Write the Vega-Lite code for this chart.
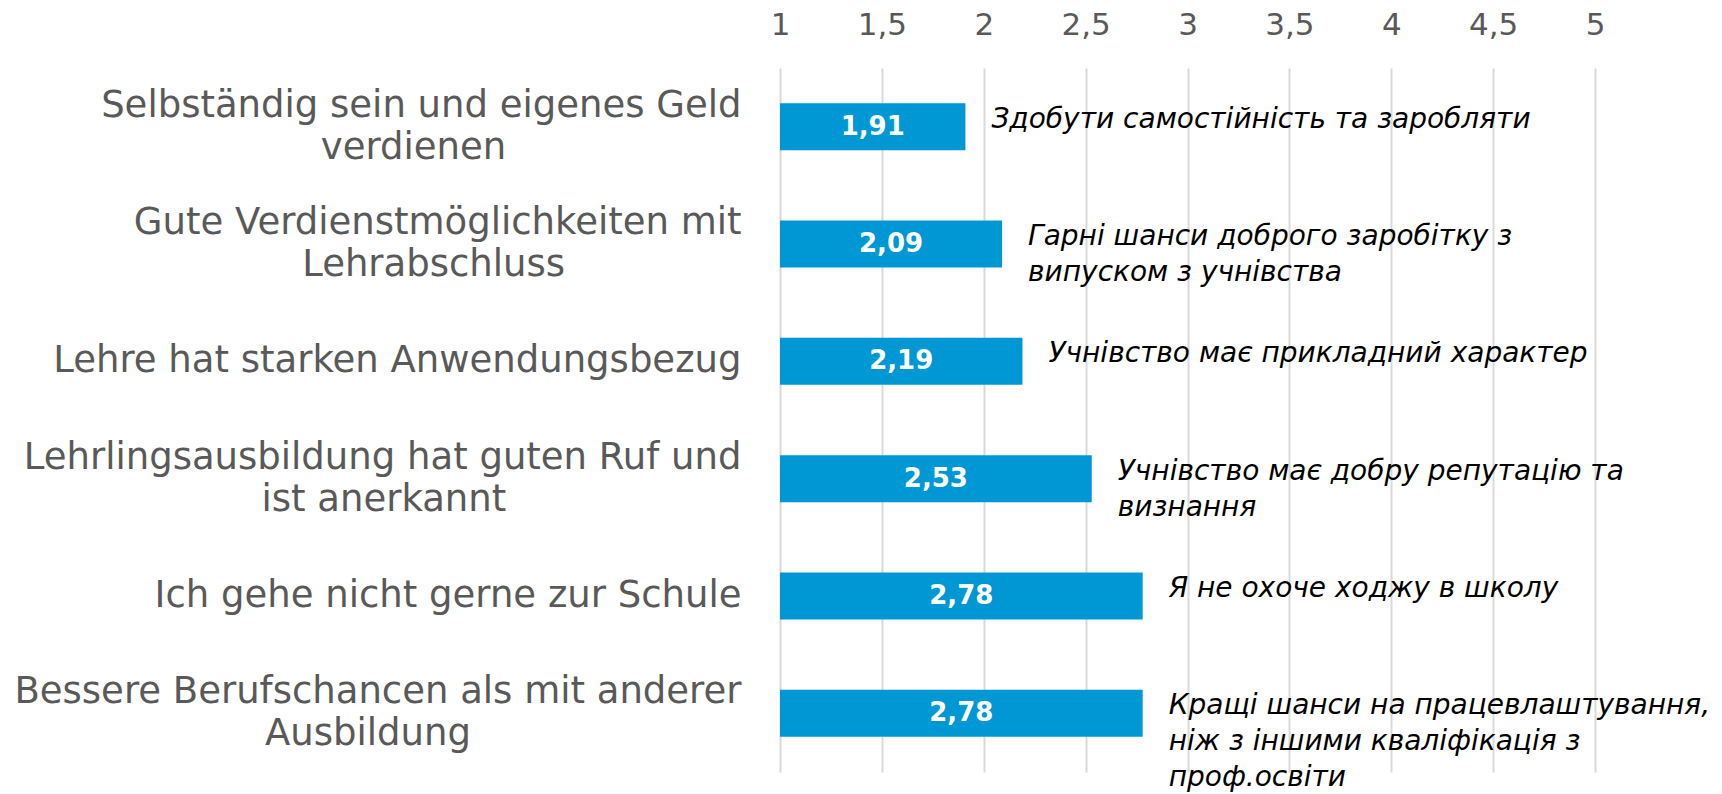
{
  "$schema": "https://vega.github.io/schema/vega-lite/v6.json",
  "autosize": {"type": "none"},
  "width": 815,
  "height": 704,
  "padding": {"left": 780, "top": 68, "right": 127, "bottom": 22},
  "background": "white",
  "config": {
    "view": {"stroke": null},
    "locale": {"number": {"decimal": ",", "thousands": ".", "grouping": [3], "currency": ["", " €"]}}
  },
  "data": {
    "values": [
      {"label": "Selbständig sein und eigenes Geld\nverdienen", "value": 1.91, "ua": "Здобути самостійність та заробляти"},
      {"label": "Gute Verdienstmöglichkeiten mit\nLehrabschluss", "value": 2.09, "ua": "Гарні шанси доброго заробітку з\nвипуском з учнівства"},
      {"label": "Lehre hat starken Anwendungsbezug", "value": 2.19, "ua": "Учнівство має прикладний характер"},
      {"label": "Lehrlingsausbildung hat guten Ruf und\nist anerkannt", "value": 2.53, "ua": "Учнівство має добру репутацію та\nвизнання"},
      {"label": "Ich gehe nicht gerne zur Schule", "value": 2.78, "ua": "Я не охоче ходжу в школу"},
      {"label": "Bessere Berufschancen als mit anderer\nAusbildung", "value": 2.78, "ua": "Кращі шанси на працевлаштування,\nніж з іншими кваліфікація з\nпроф.освіти"}
    ]
  },
  "encoding": {
    "y": {
      "field": "label", "type": "nominal", "sort": null,
      "scale": {"paddingInner": 0.6, "paddingOuter": 0.3},
      "axis": {
        "title": null, "domain": false, "ticks": false, "grid": false,
        "labelFont": "DejaVu Sans", "labelFontSize": 37, "labelColor": "#595959",
        "labelLineHeight": 42, "labelPadding": 39, "labelLimit": 0,
        "labelAlign": "right",
        "labelBaseline": {"condition": {"test": "indexof(datum.value, '\\n') >= 0", "value": "line-bottom"}, "value": "middle"},
        "labelExpr": "length(split(datum.label, '\\n')) > 1 ? [split(datum.label, '\\n')[0], pad(split(datum.label, '\\n')[1], length(split(datum.label, '\\n')[1]) + round(0.84 * (length(split(datum.label, '\\n')[0]) - length(split(datum.label, '\\n')[1]))), '\u00a0') + '\u200b'] : datum.label"
      }
    }
  },
  "layer": [
    {
      "mark": {"type": "bar", "color": "#0098D4"},
      "encoding": {
        "x": {
          "field": "value", "type": "quantitative",
          "scale": {"domain": [1, 5], "nice": false, "zero": false},
          "axis": {
            "orient": "top", "title": null, "domain": false, "ticks": false, "tickSize": 0,
            "values": [1, 1.5, 2, 2.5, 3, 3.5, 4, 4.5, 5], "format": "~g",
            "grid": true, "gridColor": "#d9d9d9", "gridWidth": 2,
            "labelFont": "DejaVu Sans", "labelFontSize": 31, "labelColor": "#595959",
            "labelBaseline": "middle", "labelPadding": 43, "labelFlush": false, "labelOverlap": false
          }
        },
        "x2": {"datum": 1}
      }
    },
    {
      "mark": {
        "type": "text", "color": "white", "font": "DejaVu Sans", "fontWeight": "bold",
        "fontSize": 26, "align": "center", "baseline": "middle",
        "x": {"expr": "scale('x', (datum.value + 1) / 2)"}
      },
      "encoding": {
        "text": {"field": "value", "type": "quantitative", "format": ".2f"}
      }
    },
    {
      "mark": {
        "type": "text", "color": "#000000", "font": "DejaVu Sans", "fontStyle": "italic",
        "fontSize": 28, "align": "left", "baseline": "line-top", "lineBreak": "\n",
        "lineHeight": 36, "dx": 26, "dy": -25
      },
      "encoding": {
        "x": {"field": "value", "type": "quantitative"},
        "text": {"field": "ua", "type": "nominal"}
      }
    }
  ]
}
